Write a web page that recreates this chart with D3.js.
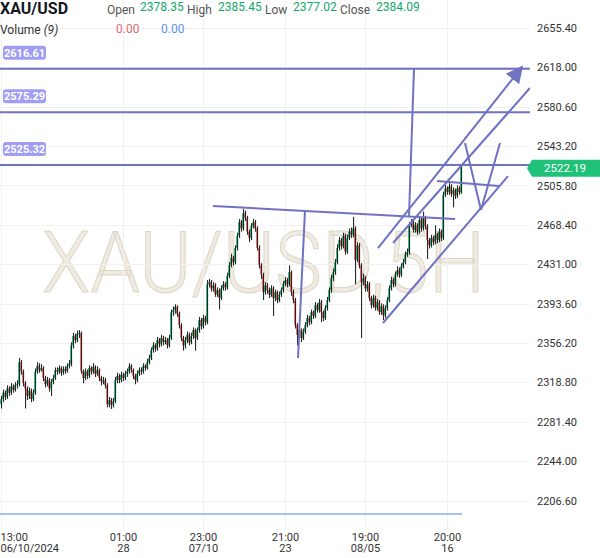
<!DOCTYPE html>
<html lang="en">
<head>
<meta charset="UTF-8"/>
<title>XAU/USD 5H</title>
<script src="https://d3js.org/d3.v7.min.js"></script>
<style>
  body { margin: 0; background: #fff; }
  svg { display: block; }
  text { font-family: Roboto, 'Noto Sans', sans-serif; }
  .grid line { stroke: #f1f1f1; stroke-width: 1; }
  .yaxis text, .xaxis text { font-size: 11px; fill: #333; }
  .drawing { stroke: #6f72c3; stroke-width: 2; fill: none; }
</style>
</head>
<body>
<svg width="600" height="558"></svg>
<script>
// 5H candles, bar index 0..230 (open of each bar = previous close)
const firstOpen = 2298.0;
const closes = [
  2303.0,2309.0,2305.0,2313.0,2309.0,2315.0,2311.5,2316.0,2317.0,2338.0,
  2329.0,2318.0,2313.0,2306.0,2311.0,2303.0,2309.0,2329.0,2334.5,2330.5,
  2332.5,2323.0,2317.0,2321.0,2313.0,2319.5,2323.0,2330.5,2329.0,2332.5,
  2328.0,2331.5,2329.5,2334.5,2336.0,2354.0,2363.0,2359.0,2365.0,2365.7,
  2329.5,2323.0,2329.0,2325.0,2332.5,2329.0,2333.5,2327.0,2330.5,2323.0,
  2319.5,2321.0,2316.0,2298.0,2302.0,2297.5,2301.0,2321.0,2325.0,2321.0,
  2326.0,2323.0,2327.0,2329.0,2334.5,2330.5,2325.0,2321.0,2327.0,2330.5,
  2329.0,2334.5,2332.5,2338.0,2342.0,2349.5,2354.0,2351.0,2359.0,2355.0,
  2361.0,2357.0,2359.0,2354.0,2361.0,2385.5,2387.5,2390.5,2384.0,2373.0,
  2361.0,2354.0,2359.0,2364.0,2357.0,2363.0,2368.5,2361.0,2368.5,2378.0,
  2372.0,2380.0,2376.0,2412.0,2414.0,2408.0,2411.0,2402.5,2406.5,2399.0,
  2408.0,2412.0,2409.0,2420.0,2430.0,2437.0,2433.0,2446.5,2458.0,2471.0,
  2465.0,2479.5,2475.0,2462.0,2456.0,2467.0,2471.0,2465.0,2446.5,2430.0,
  2421.0,2404.5,2411.0,2406.5,2402.0,2408.0,2399.0,2404.5,2397.0,2402.0,
  2406.5,2412.0,2416.0,2412.0,2423.5,2404.5,2397.0,2373.0,2364.0,2368.5,
  2361.0,2367.0,2373.0,2380.0,2376.0,2385.5,2382.0,2392.0,2387.5,2395.0,
  2385.5,2380.0,2389.5,2397.0,2406.5,2418.0,2423.5,2433.0,2446.5,2454.0,
  2448.0,2458.0,2443.0,2456.0,2462.0,2459.0,2465.0,2435.0,2449.0,2430.0,
  2414.0,2418.0,2408.0,2412.0,2399.0,2392.0,2399.0,2389.5,2395.0,2385.5,
  2391.0,2382.5,2389.5,2397.0,2408.0,2416.0,2412.0,2421.5,2425.5,2421.0,
  2429.0,2433.0,2440.0,2442.5,2468.5,2471.0,2463.5,2468.5,2462.0,2473.0,
  2465.0,2475.0,2467.0,2454.0,2449.0,2456.0,2452.0,2459.0,2454.0,2462.0,
  2456.0,2497.0,2503.0,2499.5,2505.0,2498.0,2501.5,2496.0,2503.0,2499.5,
  2522.19
];
const highs = [
  2306,2312,2311,2316,2315,2318,2317,2319,2321,2342,
  2340,2331,2320,2315,2314,2313,2312,2332,2338,2337,
  2336,2334,2325,2324,2323,2322,2326,2333,2333,2335,
  2334,2334,2334,2337,2340,2357,2366,2365,2368,2368.5,
  2367,2331,2332,2331,2335,2334,2337,2335,2334,2332,
  2325,2324,2323,2318,2305,2304,2304,2324,2328,2327,
  2329,2328,2330,2332,2337,2336,2332,2327,2330,2333,
  2333,2337,2336,2341,2345,2352,2357,2356,2362,2361,
  2364,2363,2362,2361,2364,2388,2391,2393,2392,2386,
  2375,2363,2362,2367,2366,2366,2371,2370,2371,2381,
  2380,2383,2382,2416,2417,2416,2414,2413,2409,2408,
  2411,2415,2414,2423,2433,2441,2439,2449,2461,2474,
  2473,2483.5,2482,2477,2464,2470,2474,2473,2467,2449,
  2432,2423,2414,2413,2409,2411,2410,2407,2406,2405,
  2409,2415,2419,2418,2430,2425,2407,2399,2375,2371,
  2370,2370,2376,2383,2382,2388,2387,2395,2394,2398,
  2397,2387,2392,2400,2409,2421,2427,2436,2450,2457,
  2456,2461,2460,2459,2465,2466,2476,2467,2452,2451,
  2432,2422,2420,2415,2414,2401,2402,2401,2398,2397,
  2394,2393,2392,2400,2411,2419,2418,2424,2429,2428,
  2432,2436,2443,2446,2471,2474,2473,2471,2470,2476,
  2475,2481,2477,2469,2456,2459,2458,2468,2461,2465,
  2464,2500,2506,2505,2508,2507,2504,2503,2506,2505,
  2524.5
];
const lows = [
  2294,2300,2302,2303,2306,2307,2309,2310,2313,2315,
  2326,2315,2294,2302,2303,2300,2301,2307,2327,2328,
  2329,2320,2314,2315,2310,2306,2317,2321,2326,2327,
  2325,2326,2327,2328,2332,2334,2351,2356,2357,2361,
  2327,2318,2321,2322,2323,2326,2327,2324,2325,2320,
  2316,2317,2313,2295,2295,2293.5,2295,2299,2318,2318,
  2319,2320,2321,2324,2327,2328,2322,2317,2319,2325,
  2326,2327,2330,2331,2336,2340,2347,2348,2349,2352,
  2353,2354,2355,2351,2352,2359,2382,2384,2381,2370,
  2358,2349,2351,2356,2354,2355,2360,2349,2359,2366,
  2369,2370,2373,2374,2409,2405,2405,2400,2400,2388,
  2397,2406,2406,2407,2418,2428,2430,2431,2444,2456,
  2462,2463,2472,2459,2452,2454,2465,2462,2444,2427,
  2417,2397,2402,2403,2399,2400,2382,2396,2394,2395,
  2400,2404,2410,2409,2410,2401,2394,2370,2354,2361,
  2357,2359,2365,2371,2373,2374,2379,2380,2385,2385,
  2376,2377,2378,2387,2395,2404,2415,2421,2431,2444,
  2445,2446,2440,2441,2454,2456,2457,2412,2433,2427,
  2361,2411,2405,2405,2396,2389,2390,2387,2387,2383,
  2383,2378,2380,2387,2395,2406,2409,2410,2419,2418,
  2419,2427,2431,2438,2440,2466,2461,2461,2459,2460,
  2462,2463,2464,2436,2446,2447,2449,2450,2451,2452,
  2453,2454,2495,2497,2497,2495,2485,2493,2494,2497,
  2498
];

// axes
const yTicks = [2655.40, 2618.00, 2580.60, 2543.20, 2505.80, 2468.40, 2431.00,
                2393.60, 2356.20, 2318.80, 2281.40, 2244.00, 2206.60];
const xTickIdx = [0, 61, 101, 142, 182, 223];
const xTickTime = ['13:00', '01:00', '23:00', '21:00', '19:00', '20:00'];
const xTickDate = ['06/10/2024', '28', '07/10', '23', '08/05', '16'];

// volume pane (Volume 9): flat at zero
const volIdx = [0, 230];
const volVals = [0.00, 0.00];

// horizontal level lines and last price
const levels = [2616.61, 2575.29, 2525.32];
const lastPrice = 2522.19;

// trend line drawings: [bar1, price1, bar2, price2]
const trendLines = [
  [106, 2486.3, 227, 2474.0],
  [152, 2482.5, 148.5, 2342.0],
  [206.5, 2616.5, 204, 2476.8],
  [196, 2451.2, 264.5, 2598.4],
  [191, 2375.2, 253.5, 2514.8],
  [218, 2510.1, 249, 2505.3],
  [232, 2546.2, 240, 2482.5],
  [240, 2482.5, 249.5, 2546.2]
];
const arrowLine = [188.5, 2446.4, 260.5, 2618.4];

const W = 600, H = 558;
const plotRight = 530, plotBottom = 529;
const upColor = '#17b877', downColor = '#f0625a';

const svg = d3.select('svg');
const x = d3.scaleLinear().domain([0, 230]).range([1, 461]);
const y = d3.scaleLinear().domain([2206.6, 2655.4]).range([500.5, 28]);
const vy = d3.scaleLinear().domain([0, 1]).range([514, 506]);

svg.append('rect').attr('width', W).attr('height', H).attr('fill', '#fff');

const defs = svg.append('defs');
defs.append('clipPath').attr('id', 'plot')
  .append('rect').attr('x', 0).attr('y', 0).attr('width', plotRight).attr('height', plotBottom);
defs.append('marker').attr('id', 'arrow')
  .attr('viewBox', '0 0 10 10').attr('refX', 9).attr('refY', 5)
  .attr('markerWidth', 17).attr('markerHeight', 17)
  .attr('markerUnits', 'userSpaceOnUse').attr('orient', 'auto')
  .append('path').attr('d', 'M0,0 L10,5 L0,10 z').attr('fill', '#6f72c3');

// watermark
svg.append('text')
  .attr('x', 42).attr('y', 292)
  .attr('textLength', 443).attr('lengthAdjust', 'spacingAndGlyphs')
  .style('font-size', '86px').style('font-weight', 300)
  .attr('fill', '#efebe2').attr('stroke', '#ddd6c6').attr('stroke-width', 1)
  .text('XAU/USD,5H');

// grid
const grid = svg.append('g').attr('class', 'grid');
grid.selectAll('line.h').data(yTicks).join('line').attr('class', 'h')
  .attr('x1', 0).attr('x2', plotRight)
  .attr('y1', d => Math.round(y(d)) + 0.5).attr('y2', d => Math.round(y(d)) + 0.5);
grid.selectAll('line.v').data(xTickIdx).join('line').attr('class', 'v')
  .attr('x1', d => Math.round(x(d)) + 0.5).attr('x2', d => Math.round(x(d)) + 0.5)
  .attr('y1', 0).attr('y2', plotBottom);

// candles
const bars = closes.map((c, i) => ({
  i, c, o: i ? closes[i - 1] : firstOpen, h: highs[i], l: lows[i]
}));
const cg = svg.append('g').attr('clip-path', 'url(#plot)');
cg.selectAll('rect.body').data(bars).join('rect').attr('class', 'body')
  .attr('x', d => x(d.i) - 0.9)
  .attr('width', 1.2)
  .attr('y', d => y(Math.max(d.o, d.c)))
  .attr('height', d => Math.max(1, Math.abs(y(d.o) - y(d.c))))
  .attr('fill', d => d.c >= d.o ? upColor : downColor);
cg.selectAll('line.wick').data(bars).join('line').attr('class', 'wick')
  .attr('x1', d => x(d.i) + 0.6).attr('x2', d => x(d.i) + 0.6)
  .attr('y1', d => y(Math.max(d.h, d.o, d.c)))
  .attr('y2', d => y(Math.min(d.l, d.o, d.c)))
  .attr('stroke', '#111').attr('stroke-width', 1);

// volume line
svg.append('path')
  .datum(volIdx.map((d, k) => [d, volVals[k]]))
  .attr('d', d3.line().x(d => x(d[0])).y(d => vy(d[1])))
  .attr('stroke', '#a4c3f4').attr('stroke-width', 2).attr('fill', 'none')
  .attr('stroke-linecap', 'square');

// drawings
const dg = svg.append('g').attr('clip-path', 'url(#plot)');
dg.selectAll('line.level').data(levels).join('line').attr('class', 'drawing')
  .attr('x1', 0).attr('x2', plotRight)
  .attr('y1', d => y(d)).attr('y2', d => y(d))
  .attr('stroke', '#7275c4');
dg.selectAll('line.trend').data(trendLines).join('line').attr('class', 'drawing')
  .attr('x1', d => x(d[0])).attr('y1', d => y(d[1]))
  .attr('x2', d => x(d[2])).attr('y2', d => y(d[3]));
dg.append('line').attr('class', 'drawing')
  .attr('x1', x(arrowLine[0])).attr('y1', y(arrowLine[1]))
  .attr('x2', x(arrowLine[2])).attr('y2', y(arrowLine[3]))
  .attr('marker-end', 'url(#arrow)');

// level labels
const lg = svg.append('g');
lg.selectAll('rect').data(levels).join('rect')
  .attr('x', 3).attr('y', d => y(d) - 23).attr('width', 43).attr('height', 14).attr('rx', 3)
  .attr('fill', '#a09ef2');
lg.selectAll('text').data(levels).join('text')
  .attr('x', 24.5).attr('y', d => y(d) - 12)
  .attr('text-anchor', 'middle').attr('fill', '#fff')
  .style('font-size', '11px').style('font-weight', 'bold')
  .text(d => d.toFixed(2));

// right axis
svg.append('g').attr('class', 'yaxis')
  .attr('transform', `translate(${plotRight},0)`)
  .call(d3.axisRight(y).tickValues(yTicks).tickFormat(d3.format('.2f')).tickSize(0).tickPadding(7))
  .call(g => g.select('.domain').remove());

// last price tag
const ly = y(lastPrice);
svg.append('path')
  .attr('d', `M527,${ly} L532,${ly - 8.5} H600 V${ly + 8.5} H532 Z`)
  .attr('fill', '#20c27a');
svg.append('text').attr('x', 565).attr('y', ly + 4)
  .attr('text-anchor', 'middle').attr('fill', '#fff')
  .style('font-size', '11.5px').text(lastPrice.toFixed(2));

// bottom axis
svg.append('g').attr('class', 'xaxis')
  .attr('transform', `translate(0,${plotBottom + 1})`)
  .call(d3.axisBottom(x).tickValues(xTickIdx).tickSize(0).tickFormat(''))
  .call(g => g.select('.domain').remove())
  .call(g => g.selectAll('.tick text').each(function (d, k) {
    const t = d3.select(this).attr('dy', null).attr('y', null);
    if (k === 0) t.attr('text-anchor', 'start').attr('x', -1);
    t.append('tspan').attr('x', k === 0 ? -1 : 0).attr('y', 10.5).text(xTickTime[k]);
    t.append('tspan').attr('x', k === 0 ? -1 : 0).attr('y', 22).text(xTickDate[k]);
  }));

// header legend
const hd = svg.append('g');
hd.append('text').attr('x', 0).attr('y', 14).style('font-size', '16px').style('font-weight', 'bold')
  .attr('fill', '#131722').text('XAU/USD');
const ohlc = [['Open', 107, '2378.35', 140], ['High', 187, '2385.45', 218],
              ['Low', 265, '2377.02', 293], ['Close', 340, '2384.09', 376]];
ohlc.forEach(o => {
  hd.append('text').attr('x', o[1]).attr('y', 13.5).style('font-size', '12px').attr('fill', '#555').text(o[0]);
  hd.append('text').attr('x', o[3]).attr('y', 11).style('font-size', '12px').attr('fill', '#14a86a').text(o[2]);
});
const vt = hd.append('text').attr('x', 0).attr('y', 34).style('font-size', '12px').attr('fill', '#333');
vt.append('tspan').text('Volume ');
vt.append('tspan').style('font-style', 'italic').text('(9)');
hd.append('text').attr('x', 116).attr('y', 33).style('font-size', '12px').attr('fill', '#e06c6c').text('0.00');
hd.append('text').attr('x', 161).attr('y', 33).style('font-size', '12px').attr('fill', '#5b8ff0').text('0.00');
</script>
</body>
</html>
